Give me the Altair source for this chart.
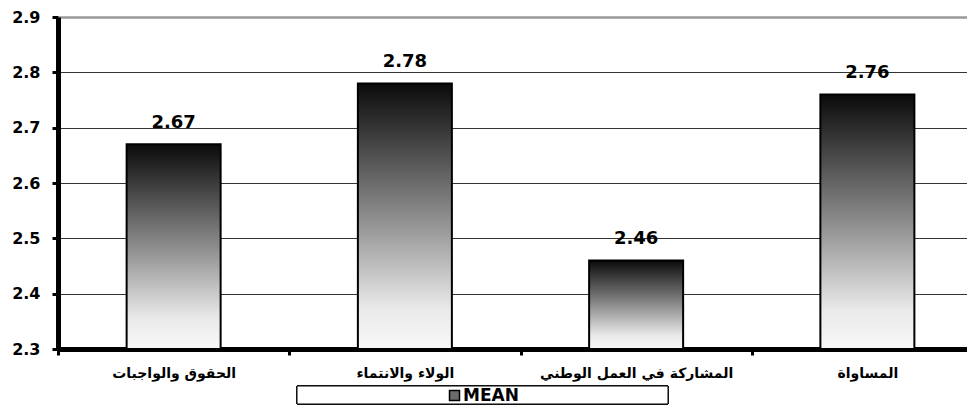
import altair as alt
import pandas as pd

categories = ["الحقوق والواجبات", "الولاء والانتماء", "المشاركة في العمل الوطني", "المساواة"]
means = [2.67, 2.78, 2.46, 2.76]
series_name = "MEAN"
y_ticks = [2.3, 2.4, 2.5, 2.6, 2.7, 2.8, 2.9]

df = pd.DataFrame({"cat": categories, "mean": means, "series": [series_name] * len(categories)})

FONT = "DejaVu Sans"

x_enc = alt.X("cat:N", sort=categories, title=None,
              scale=alt.Scale(paddingInner=0, paddingOuter=0, range=[0, 925]),
              axis=alt.Axis(labelAngle=0, labelFont=FONT, labelFontWeight="bold",
                            labelFontSize=14, labelColor="black", labelPadding=11,
                            domainColor="black", domainWidth=5, tickColor="black",
                            tickWidth=3, tickSize=6, tickBand="extent", labelLimit=300))
y_enc = alt.Y("mean:Q", title=None,
              scale=alt.Scale(domain=[y_ticks[0], y_ticks[-1]], zero=False, nice=False),
              axis=alt.Axis(values=y_ticks, format=".1f", labelFont=FONT, labelFontWeight="bold",
                            labelFontSize=16, labelColor="black", labelPadding=12,
                            domainColor="black", domainWidth=5, tickColor="black",
                            tickWidth=3, tickSize=6,
                            gridColor={"condition": {"test": "datum.value >= 2.89", "value": "#999999"}, "value": "#333333"},
                            gridWidth={"condition": {"test": "datum.value >= 2.89", "value": 2.5}, "value": 1}))

gradient = {
    "gradient": "linear", "x1": 0, "y1": 0, "x2": 0, "y2": 1,
    "stops": [
        {"offset": 0, "color": "#0a0a0a"},
        {"offset": 0.5, "color": "#8c8c8c"},
        {"offset": 0.85, "color": "#eaeaea"},
        {"offset": 1, "color": "#f8f8f8"},
    ],
}

bars = alt.Chart(df).mark_bar(fill=gradient, stroke="black", strokeWidth=2, size=94).encode(
    x=x_enc, y=y_enc, y2=alt.datum(y_ticks[0])
)

labels = alt.Chart(df).mark_text(font=FONT, fontWeight="bold", fontSize=18, color="black",
                                 baseline="alphabetic", dy=-16).encode(
    x=alt.X("cat:N", sort=categories), y="mean:Q", text=alt.Text("mean:Q", format=".2f")
)

legend_box = alt.Chart(df).mark_rect(fill="white", stroke="black", strokeWidth=1).encode(
    x=alt.value(239), x2=alt.value(610), y=alt.value(369), y2=alt.value(387)
)

legend_layer = alt.Chart(df).mark_square(opacity=0, size=1).encode(
    x=alt.X("cat:N", sort=categories), y="mean:Q",
    fill=alt.Fill("series:N", title=None,
                  scale=alt.Scale(range=["#6a6a6a"]),
                  legend=alt.Legend(orient="none", legendX=387, legendY=369, padding=1,
                                    symbolType="square", symbolSize=100, symbolOpacity=1,
                                    symbolStrokeColor="black", symbolStrokeWidth=1.5,
                                    labelFont=FONT, labelFontWeight="bold", labelFontSize=17,
                                    labelColor="black", labelOffset=0))
)

chart = alt.layer(bars, labels, legend_box, legend_layer).properties(
    width=909, height=332,
    padding={"left": 50, "top": 9, "right": 0, "bottom": 57},
    autosize=alt.AutoSizeParams(type="none"),
).configure_view(stroke=None).configure(background="white")

chart.save("out.html", embed_options={"renderer": "svg", "actions": False})
